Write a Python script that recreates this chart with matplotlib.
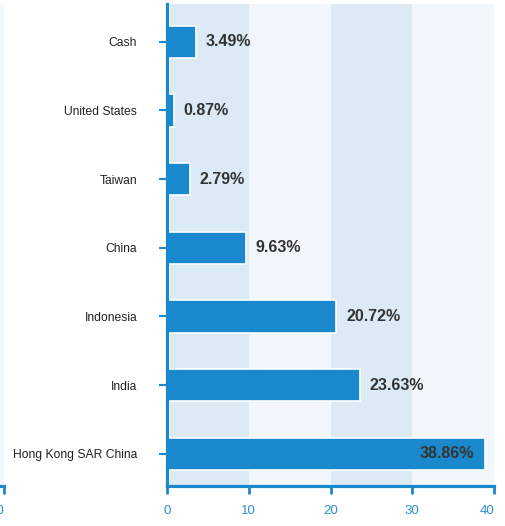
import matplotlib
matplotlib.use("Agg")
import matplotlib.pyplot as plt

plt.rcParams['font.family'] = ['Liberation Sans', 'DejaVu Sans']

# allocation by country, percent of portfolio
countries = ["Cash", "United States", "Taiwan", "China", "Indonesia", "India",
             "Hong Kong SAR China"]
weights = [3.49, 0.87, 2.79, 9.63, 20.72, 23.63, 38.86]
x_ticks = [0, 10, 20, 30, 40]

BLUE = "#1a88cc"
BAND_DARK = "#dbeaf5"
BAND_LIGHT = "#f1f7fc"
TEXT = "#333333"

fig = plt.figure(figsize=(5.06, 5.26), dpi=100)


def style_axes(ax):
    ax.set_xlim(0, 40)
    ax.set_ylim(len(countries) - 0.53, -0.55)
    for i, lo in enumerate(x_ticks[:-1]):
        ax.axvspan(lo, x_ticks[i + 1], color=BAND_DARK if i % 2 == 0 else BAND_LIGHT,
                   lw=0, zorder=0)
    for side in ("top", "right"):
        ax.spines[side].set_visible(False)
    for side in ("left", "bottom"):
        ax.spines[side].set_color(BLUE)
        ax.spines[side].set_linewidth(2.3)
    ax.set_xticks(x_ticks)
    ax.set_xticklabels([str(t) for t in x_ticks])
    ax.tick_params(axis="x", colors=BLUE, length=6, width=2, labelsize=9.5,
                   pad=8, labelcolor="#2b8fd1")
    ax.get_xticklabels()[-1].set_horizontalalignment("right")


# previous panel, only its right edge shows
ax0 = fig.add_axes([-0.6, 40 / 526, 0.6 + 4 / 506, 482 / 526])
style_axes(ax0)
ax0.set_yticks([])

ax = fig.add_axes([167 / 506, 40 / 526, 327 / 506, 482 / 526])
style_axes(ax)

ypos = list(range(len(countries)))
ax.barh(ypos, weights, height=0.47, color=BLUE, edgecolor="white", linewidth=1.2,
        zorder=2)
ax.axvline(0, color="white", lw=3.6, zorder=1.5)

ax.set_yticks(ypos)
ax.set_yticklabels(countries)
ax.tick_params(axis="y", colors=BLUE, length=6, width=1.5, labelsize=8.7,
               pad=15.5, labelcolor="#222222")

for y, w in zip(ypos, weights):
    if w > 35:
        ax.annotate(f"{w:.2f}%", (w, y), xytext=(-8, 0), textcoords="offset points",
                    ha="right", va="center", fontsize=11.5, fontweight="bold",
                    color=TEXT, zorder=3)
    else:
        ax.annotate(f"{w:.2f}%", (w, y), xytext=(7, 0), textcoords="offset points",
                    ha="left", va="center", fontsize=11.5, fontweight="bold",
                    color=TEXT, zorder=3)

fig.savefig("out.png", dpi=100)
